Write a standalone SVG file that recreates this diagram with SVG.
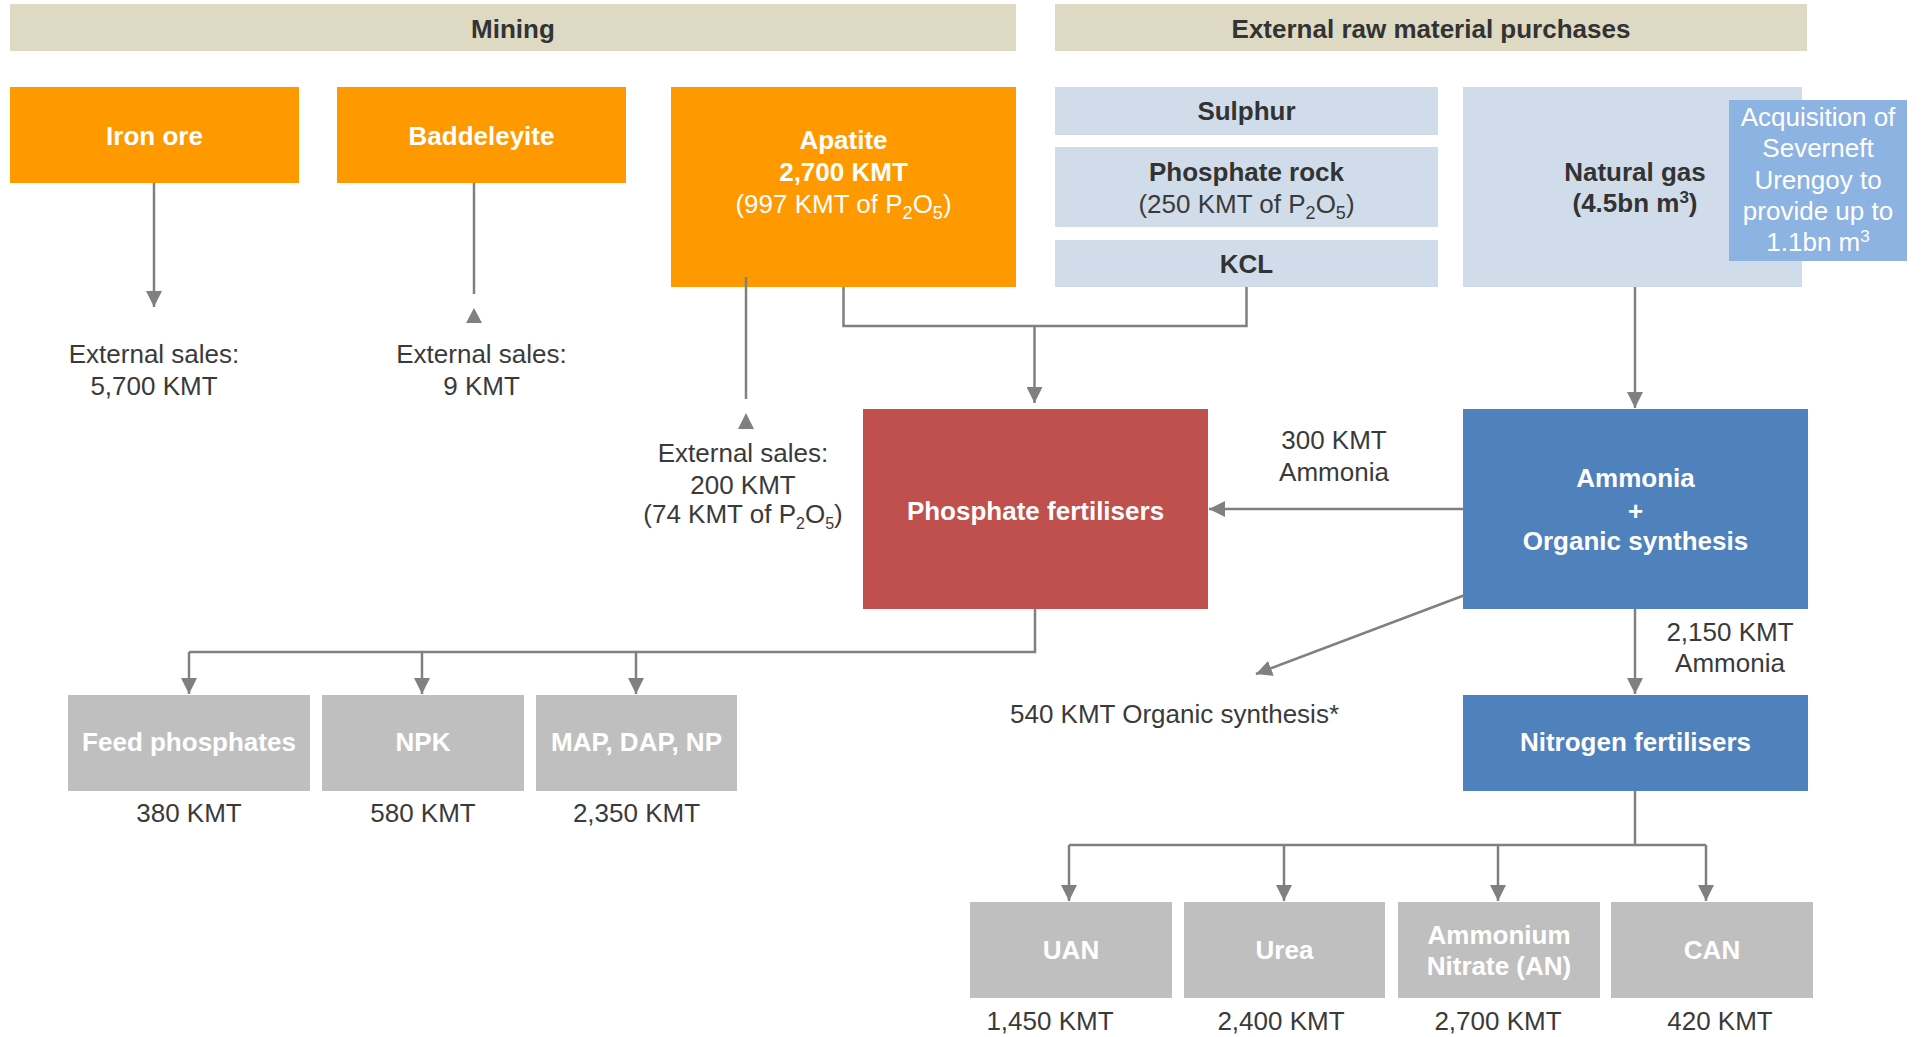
<svg xmlns="http://www.w3.org/2000/svg" width="1921" height="1037" viewBox="0 0 1921 1037">
<defs>
<style>
text{font-family:"Liberation Sans",Arial,sans-serif;font-size:26px;text-anchor:middle}
.b{font-weight:bold}
.w{fill:#ffffff}
.d{fill:#3a3a3a}
.h{fill:#333333;font-weight:bold}
.hdr{fill:#ddd9c3}
.org{fill:#ff9900}
.lb{fill:#d0dce9}
.acq{fill:#8db3e2}
.red{fill:#c0504d}
.blu{fill:#4f81bd}
.gry{fill:#bfbfbf}
.ln{fill:none;stroke:#808080;stroke-width:2.5}
.ah{fill:#808080}
</style>
<marker id="arr" markerUnits="userSpaceOnUse" markerWidth="16" markerHeight="16" viewBox="0 0 16 16" refX="16" refY="8" orient="auto">
<path d="M0,0 L16,8 L0,16 Z" fill="#808080"/>
</marker>
</defs>

<g id="header-mining"><rect class="hdr" x="10" y="4" width="1006" height="47"/><text class="h" x="513" y="38">Mining</text></g>
<g id="header-external"><rect class="hdr" x="1055" y="4" width="752" height="47"/><text class="h" x="1431" y="38">External raw material purchases</text></g>

<g id="iron-ore"><rect class="org" x="10" y="87" width="289" height="96"/><text class="b w" x="154.5" y="145">Iron ore</text></g>
<g id="baddeleyite"><rect class="org" x="337" y="87" width="289" height="96"/><text class="b w" x="481.5" y="145">Baddeleyite</text></g>
<g id="apatite"><rect class="org" x="671" y="87" width="345" height="200"/>
<text class="b w" x="843.5" y="149">Apatite</text>
<text class="b w" x="843.5" y="181">2,700 KMT</text>
<text class="w" x="843.5" y="213">(997 KMT of P<tspan font-size="18" dy="6">2</tspan><tspan dy="-6">O</tspan><tspan font-size="18" dy="6">5</tspan><tspan dy="-6">)</tspan></text></g>

<g id="sulphur"><rect class="lb" x="1055" y="87" width="383" height="48"/><text class="h" x="1246.5" y="120">Sulphur</text></g>
<g id="phosphate-rock"><rect class="lb" x="1055" y="147" width="383" height="80"/>
<text class="h" x="1246.5" y="181">Phosphate rock</text>
<text class="d" x="1246.5" y="213">(250 KMT of P<tspan font-size="18" dy="6">2</tspan><tspan dy="-6">O</tspan><tspan font-size="18" dy="6">5</tspan><tspan dy="-6">)</tspan></text></g>
<g id="kcl"><rect class="lb" x="1055" y="240" width="383" height="47"/><text class="h" x="1246.5" y="273">KCL</text></g>

<g id="natural-gas"><rect class="lb" x="1463" y="87" width="339" height="200"/>
<text class="h" x="1635" y="181">Natural gas</text>
<text class="h" x="1635" y="212">(4.5bn m<tspan font-size="17" dy="-9">3</tspan><tspan dy="9">)</tspan></text></g>
<g id="acquisition"><rect class="acq" x="1729" y="100" width="178" height="161"/>
<text class="w" x="1818" y="126">Acquisition of</text>
<text class="w" x="1818" y="157">Severneft</text>
<text class="w" x="1818" y="189">Urengoy to</text>
<text class="w" x="1818" y="220">provide up to</text>
<text class="w" x="1818" y="251">1.1bn m<tspan font-size="17" dy="-9">3</tspan></text></g>

<g id="sales-iron"><text class="d" x="154" y="363">External sales:</text><text class="d" x="154" y="395">5,700 KMT</text></g>
<g id="sales-baddeleyite"><text class="d" x="481.5" y="363">External sales:</text><text class="d" x="481.5" y="395">9 KMT</text></g>
<g id="sales-apatite"><text class="d" x="743" y="462">External sales:</text><text class="d" x="743" y="494">200 KMT</text>
<text class="d" x="743" y="523" font-size="22">(74 KMT of P<tspan font-size="16" dy="6">2</tspan><tspan dy="-6">O</tspan><tspan font-size="16" dy="6">5</tspan><tspan dy="-6">)</tspan></text></g>

<g id="phosphate-fertilisers"><rect class="red" x="863" y="409" width="345" height="200"/><text class="b w" x="1035.5" y="520">Phosphate fertilisers</text></g>
<g id="ammonia"><rect class="blu" x="1463" y="409" width="345" height="200"/>
<text class="b w" x="1635.5" y="487">Ammonia</text>
<text class="b w" x="1635.5" y="520">+</text>
<text class="b w" x="1635.5" y="550">Organic synthesis</text></g>
<g id="label-300"><text class="d" x="1334" y="449">300 KMT</text><text class="d" x="1334" y="481">Ammonia</text></g>
<g id="label-2150"><text class="d" x="1730" y="641">2,150 KMT</text><text class="d" x="1730" y="672">Ammonia</text></g>
<g id="label-540"><text class="d" x="1010" y="723" style="text-anchor:start">540 KMT Organic synthesis*</text></g>
<g id="nitrogen-fertilisers"><rect class="blu" x="1463" y="695" width="345" height="96"/><text class="b w" x="1635.5" y="751">Nitrogen fertilisers</text></g>

<g id="feed-phosphates"><rect class="gry" x="68" y="695" width="242" height="96"/><text class="b w" x="189" y="751">Feed phosphates</text><text class="d" x="189" y="822">380 KMT</text></g>
<g id="npk"><rect class="gry" x="322" y="695" width="202" height="96"/><text class="b w" x="423" y="751">NPK</text><text class="d" x="423" y="822">580 KMT</text></g>
<g id="map-dap-np"><rect class="gry" x="536" y="695" width="201" height="96"/><text class="b w" x="636.5" y="751">MAP, DAP, NP</text><text class="d" x="636.5" y="822">2,350 KMT</text></g>

<g id="uan"><rect class="gry" x="970" y="902" width="202" height="96"/><text class="b w" x="1071" y="959">UAN</text><text class="d" x="1050" y="1030">1,450 KMT</text></g>
<g id="urea"><rect class="gry" x="1184" y="902" width="201" height="96"/><text class="b w" x="1284.5" y="959">Urea</text><text class="d" x="1281" y="1030">2,400 KMT</text></g>
<g id="ammonium-nitrate"><rect class="gry" x="1398" y="902" width="202" height="96"/><text class="b w" x="1499" y="944">Ammonium</text><text class="b w" x="1499" y="975">Nitrate (AN)</text><text class="d" x="1498" y="1030">2,700 KMT</text></g>
<g id="can"><rect class="gry" x="1611" y="902" width="202" height="96"/><text class="b w" x="1712" y="959">CAN</text><text class="d" x="1720" y="1030">420 KMT</text></g>

<g id="connectors">
<path class="ln" d="M154,183 V307" marker-end="url(#arr)"/>
<path class="ln" d="M474,183 V294"/>
<polygon class="ah" points="474,308 482,323 466,323"/>
<path class="ln" d="M746,277 V399"/>
<polygon class="ah" points="746,413 754,429 738,429"/>
<path class="ln" d="M843.5,287 V326 H1246.5 V287"/>
<path class="ln" d="M1034.5,326 V403" marker-end="url(#arr)"/>
<path class="ln" d="M1635,287 V408" marker-end="url(#arr)"/>
<path class="ln" d="M1463,509 H1209" marker-end="url(#arr)"/>
<path class="ln" d="M1465,595 L1256,674" marker-end="url(#arr)"/>
<path class="ln" d="M1635,609 V694" marker-end="url(#arr)"/>
<path class="ln" d="M1035,609 V652 H189"/>
<path class="ln" d="M189,652 V694" marker-end="url(#arr)"/>
<path class="ln" d="M422,652 V694" marker-end="url(#arr)"/>
<path class="ln" d="M636,652 V694" marker-end="url(#arr)"/>
<path class="ln" d="M1635,791 V845"/>
<path class="ln" d="M1069,845 H1706"/>
<path class="ln" d="M1069,845 V901" marker-end="url(#arr)"/>
<path class="ln" d="M1284,845 V901" marker-end="url(#arr)"/>
<path class="ln" d="M1498,845 V901" marker-end="url(#arr)"/>
<path class="ln" d="M1706,845 V901" marker-end="url(#arr)"/>
</g>
</svg>
